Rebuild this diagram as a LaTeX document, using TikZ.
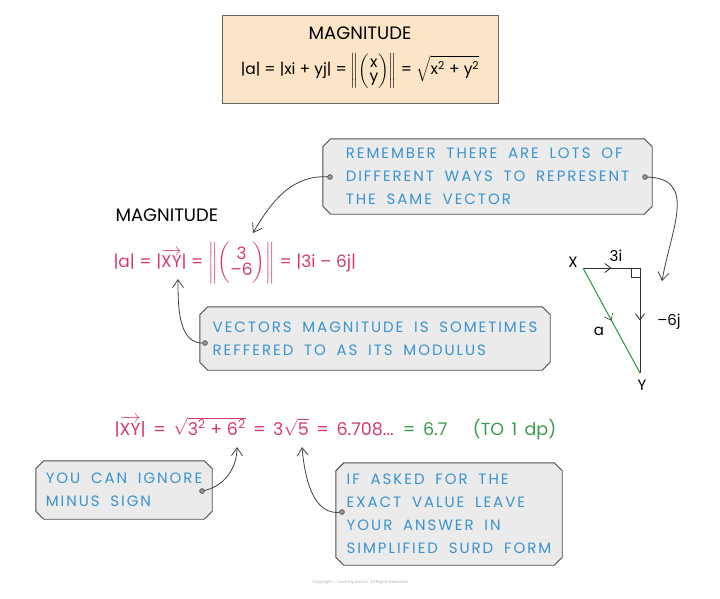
\documentclass[tikz,border=0pt]{standalone}
\usepackage{fontspec}
\usepackage{amsmath}
\setmainfont{Poppins}
\newfontfamily\callfont[LetterSpace=13,WordSpace=1.8]{Poppins}
\newfontfamily\formfont[WordSpace=1.6]{Poppins}
\usetikzlibrary{arrows.meta,backgrounds,decorations.markings,calc}
\definecolor{callblue}{HTML}{3A93CC}
\definecolor{vred}{HTML}{D63A6A}
\definecolor{vgreen}{HTML}{3A9A4C}
\definecolor{topfill}{HTML}{FCE4C6}
\definecolor{callfill}{HTML}{EBEBEC}
\tikzset{
  callout/.style={draw=none, align=left, font=\callfont\fontsize{15}{23}\selectfont, text=callblue, inner sep=0pt},
  boxline/.style={fill=callfill, draw=black!70, line width=0.9pt},
  conn/.style={draw=black!75, line width=0.8pt, -{Straight Barb[length=8pt,width=11pt]}},
  dotmark/.style={fill=black!40, draw=black!75, line width=0.6pt},
  midarrow/.style={postaction={decorate}, decoration={markings, mark=at position 0.5 with {\arrow{Straight Barb[length=6pt,width=9pt]}}}},
  lbl/.style={font=\fontsize{15}{18}\selectfont, inner sep=1pt}
}
\newcommand\chambox[2]{%
  \begin{scope}[on background layer]
  \filldraw[boxline] ([xshift=#2]#1.north west) -- ([xshift=-#2]#1.north east) -- ([yshift=-#2]#1.north east)
    -- ([yshift=#2]#1.south east) -- ([xshift=-#2]#1.south east) -- ([xshift=#2]#1.south west)
    -- ([yshift=#2]#1.south west) -- ([yshift=-#2]#1.north west) -- cycle;
  \end{scope}}
\begin{document}
\begin{tikzpicture}[x=1pt,y=-1pt]
\useasboundingbox (0,0) rectangle (720,598);

% top box
\node[draw=black!60, fill=topfill, line width=0.9pt, minimum width=276pt, minimum height=88pt] (topbox) at (360,59) {};
\node[font=\fontsize{18}{20}\selectfont] (toptitle) at (360,33) {MAGNITUDE};
\node[font=\fontsize{15.5}{18}\selectfont] (topformula) at (360,71)
  {|a| = |xi + yj| = $\left\|\begin{pmatrix}\mbox{x}\\[-4pt]\mbox{y}\end{pmatrix}\right\|$ = $\sqrt{\mbox{x\textsuperscript{2} + y\textsuperscript{2}}}$};

% callout 1
\node[callout, minimum width=329pt, minimum height=75pt] (c1) at (487.5,176.5)
  {REMEMBER THERE ARE LOTS OF\\DIFFERENT WAYS TO REPRESENT\\THE SAME VECTOR};
\chambox{c1}{8pt}

% magnitude label and red formula
\node[anchor=west, font=\fontsize{18}{20}\selectfont] (maglbl) at (112,215) {MAGNITUDE};
\node[anchor=west, font=\fontsize{17}{20}\selectfont, text=vred] (redf) at (110,263)
  {|a| = |$\overrightarrow{\mbox{XY}}$| = $\left\|\begin{pmatrix}\mbox{3}\\[-4pt]\mbox{–6}\end{pmatrix}\right\|$ = |3i – 6j|};

% callout 2
\node[callout, minimum width=350pt, minimum height=63pt] (c2) at (375,338.5)
  {VECTORS MAGNITUDE IS SOMETIMES\\REFFERED TO AS ITS MODULUS};
\chambox{c2}{8pt}

% triangle
\coordinate (X) at (583,268);
\coordinate (R) at (640,268);
\coordinate (Y) at (640,373);
\draw[black!80, line width=0.9pt, midarrow] (X) -- (R);
\draw[black!80, line width=0.9pt, midarrow] (R) -- (Y);
\draw[vgreen, line width=1.1pt] (X) -- (Y);
\path[midarrow, draw=none] (X) -- (Y);
\draw[black!80, line width=0.8pt] ($(R)+(-9,0)$) -- ++(0,9) -- ++(9,0);
\node[lbl] (Xl) at (573,262) {X};
\node[lbl] (Yl) at (642,385) {Y};
\node[lbl] (ilbl) at (616,256) {3i};
\node[lbl] (jlbl) at (669,322) {–6j};
\node[lbl] (albl) at (599,331) {a};

% bottom formula
\node[anchor=west, font=\formfont\fontsize{17.5}{20}\selectfont] (botf) at (111,428)
  {\color{vred}|$\overrightarrow{\mbox{XY}}$| = $\sqrt{\mbox{\rmfamily 3\textsuperscript{2} + 6\textsuperscript{2}}}$ = 3$\sqrt{\mbox{5}}$ = 6.708... \color{vgreen}= 6.7 \hspace{18pt}(TO 1 dp)};

% callout 3
\node[callout, minimum width=176pt, minimum height=58pt] (c3) at (124,490)
  {YOU CAN IGNORE\\MINUS SIGN};
\chambox{c3}{8pt}

% callout 4
\node[callout, minimum width=226pt, minimum height=102pt] (c4) at (449,514)
  {IF ASKED FOR THE\\EXACT VALUE LEAVE\\YOUR ANSWER IN\\SIMPLIFIED SURD FORM};
\chambox{c4}{8pt}

% copyright
\node[font=\fontsize{4}{5}\selectfont, text=black!30] (copy) at (360,583) {Copyright © Save My Exams. All Rights Reserved};

% connectors
\coordinate (d1) at (330,177);
\coordinate (d2) at (645,177);
\coordinate (d3) at (205,343);
\coordinate (d4) at (202,491);
\coordinate (d5) at (342,512);
\coordinate (t1) at (253,233);
\coordinate (t2) at (662,281);
\coordinate (t3) at (178,279);
\coordinate (t4) at (237,447);
\coordinate (t5) at (302,447);
\draw[conn] (d1) to[out=175,in=60] (t1);
\draw[conn] (d2) to[out=0,in=80,looseness=1.3] (t2);
\draw[conn] (d3) to[out=185,in=-90] (t3);
\draw[conn] (d4) to[out=10,in=-90] (t4);
\draw[conn] (d5) to[out=190,in=-85] (t5);
\foreach \d in {d1,d2,d3,d4,d5} \filldraw[dotmark] (\d) circle (2.4pt);
\end{tikzpicture}
\end{document}
